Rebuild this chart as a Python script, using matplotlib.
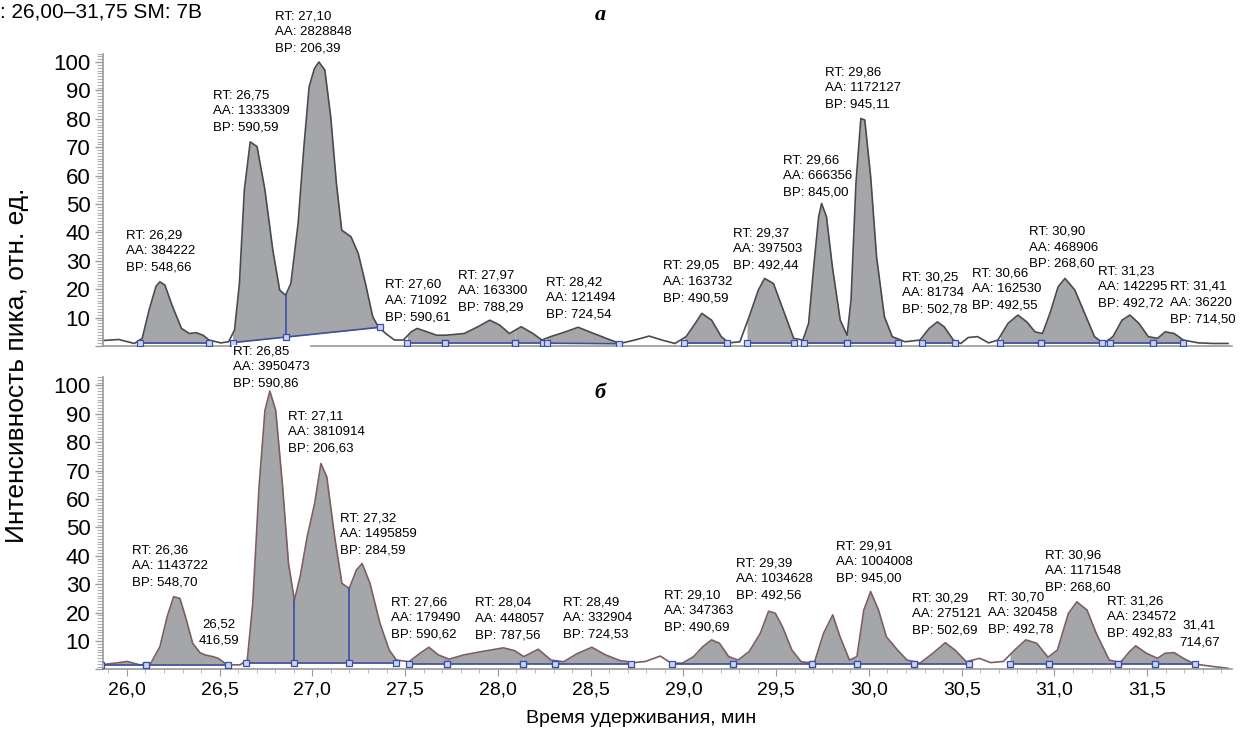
import numpy as np
import matplotlib
matplotlib.use('Agg')
import matplotlib.pyplot as plt
from matplotlib.ticker import MultipleLocator, FixedLocator, FuncFormatter

plt.rcParams['font.family'] = ['Liberation Sans', 'DejaVu Sans']

# chromatogram a: retention time (min) / relative intensity (%)
TIME_A = [25.99, 26.08, 26.16, 26.20, 26.235, 26.27, 26.29, 26.315, 26.355, 26.40,
          26.44, 26.475, 26.51, 26.54, 26.60, 26.64, 26.67, 26.695, 26.72, 26.75,
          26.785, 26.825, 26.865, 26.90, 26.93, 26.957, 26.994, 27.022, 27.05, 27.077,
          27.10, 27.13, 27.16, 27.189, 27.216, 27.263, 27.30, 27.337, 27.374, 27.402,
          27.44, 27.485, 27.53, 27.57, 27.60, 27.65, 27.70, 27.745, 27.84, 27.91,
          27.97, 28.02, 28.07, 28.13, 28.19, 28.236, 28.28, 28.356, 28.42, 28.50,
          28.578, 28.634, 28.708, 28.782, 28.847, 28.913, 28.97, 29.017, 29.05, 29.10,
          29.149, 29.187, 29.244, 29.291, 29.338, 29.37, 29.415, 29.471, 29.518, 29.565,
          29.594, 29.62, 29.645, 29.66, 29.685, 29.715, 29.755, 29.79, 29.81, 29.835,
          29.86, 29.88, 29.91, 29.94, 29.98, 30.02, 30.085, 30.161, 30.208, 30.25,
          30.284, 30.331, 30.369, 30.407, 30.454, 30.511, 30.558, 30.61, 30.66, 30.705,
          30.747, 30.785, 30.823, 30.865, 30.90, 30.95, 31.0, 31.05, 31.097, 31.144,
          31.19, 31.23, 31.276, 31.324, 31.371, 31.41, 31.456, 31.503, 31.579, 31.655,
          31.73]
SIGNAL_A = [1.9, 2.3, 0.9, 2.7, 12.7, 21.0, 22.6, 21.5, 13.8, 6.2,
            4.4, 4.7, 3.8, 2.1, 1.1, 1.5, 5.6, 22.0, 54.9, 71.9,
            70.2, 54.9, 33.8, 19.7, 17.9, 22.0, 43.2, 69.0, 91.3, 97.7,
            100.0, 97.2, 80.7, 57.3, 40.8, 38.5, 32.6, 22.0, 10.3, 6.8,
            4.4, 2.1, 2.1, 5.0, 6.2, 5.0, 3.8, 3.8, 4.4, 6.8,
            9.1, 7.4, 4.4, 6.8, 4.4, 2.1, 3.3, 5.0, 6.6, 4.4,
            2.3, 0.9, 2.1, 3.5, 2.1, 0.9, 3.3, 8.0, 11.5, 9.1,
            3.3, 1.1, 1.5, 10.3, 19.7, 23.8, 22.0, 11.5, 2.7, 2.1,
            8.0, 27.9, 45.5, 50.2, 45.5, 27.9, 9.1, 3.8, 16.2, 57.3,
            80.1, 79.6, 59.6, 31.4, 10.3, 3.3, 1.5, 2.1, 6.2, 8.5,
            6.8, 2.1, 0.9, 3.0, 3.3, 1.1, 2.1, 8.0, 10.9, 8.5,
            5.0, 4.4, 11.5, 20.9, 23.8, 19.7, 11.5, 3.3, 0.9, 3.3,
            9.1, 10.9, 8.0, 3.3, 2.7, 5.0, 4.4, 2.1, 1.1, 0.9,
            0.9]

# chromatogram б
TIME_B = [25.985, 26.06, 26.124, 26.188, 26.244, 26.29, 26.327, 26.36, 26.392, 26.42,
          26.457, 26.494, 26.52, 26.56, 26.587, 26.633, 26.698, 26.735, 26.763, 26.795,
          26.825, 26.85, 26.88, 26.915, 26.945, 26.975, 27.004, 27.04, 27.078, 27.11,
          27.14, 27.18, 27.217, 27.254, 27.291, 27.32, 27.36, 27.411, 27.458, 27.495,
          27.559, 27.615, 27.66, 27.708, 27.763, 27.837, 27.93, 28.04, 28.097, 28.143,
          28.217, 28.282, 28.347, 28.411, 28.49, 28.56, 28.634, 28.708, 28.763, 28.838,
          28.894, 28.951, 29.008, 29.055, 29.10, 29.14, 29.187, 29.235, 29.291, 29.348,
          29.39, 29.424, 29.461, 29.509, 29.556, 29.622, 29.67, 29.717, 29.754, 29.802,
          29.84, 29.875, 29.91, 29.95, 29.99, 30.047, 30.095, 30.161, 30.227, 30.29,
          30.34, 30.397, 30.464, 30.52, 30.586, 30.643, 30.70, 30.756, 30.813, 30.861,
          30.917, 30.96, 31.012, 31.059, 31.125, 31.182, 31.229, 31.26, 31.314, 31.371,
          31.41, 31.456, 31.503, 31.56, 31.655, 31.73]
SIGNAL_B = [1.6, 2.2, 2.8, 1.6, 2.2, 8.0, 18.6, 25.6, 25.0, 18.6,
            9.2, 5.9, 5.1, 4.5, 3.9, 1.6, 1.6, 3.3, 23.3, 64.3,
            91.2, 98.0, 91.2, 64.3, 37.3, 24.4, 32.6, 46.7, 58.4, 72.5,
            67.8, 46.7, 30.3, 28.5, 35.0, 37.3, 30.3, 16.2, 6.8, 3.3,
            2.7, 5.7, 7.8, 5.1, 3.6, 5.1, 6.3, 7.6, 6.6, 4.5,
            7.1, 3.3, 2.7, 5.4, 7.8, 5.1, 3.1, 2.4, 2.8, 4.7,
            2.2, 2.2, 4.5, 8.0, 10.4, 9.2, 4.5, 3.3, 6.3, 12.7,
            20.5, 19.8, 15.0, 6.8, 2.7, 2.2, 12.7, 19.2, 11.5, 3.3,
            4.5, 20.9, 27.4, 20.9, 11.5, 6.8, 3.3, 2.2, 5.7, 9.4,
            6.8, 2.7, 3.9, 2.4, 2.8, 6.8, 10.4, 9.2, 4.3, 6.8,
            19.7, 23.8, 20.9, 12.7, 3.3, 2.4, 6.3, 8.3, 5.7, 3.9,
            5.7, 5.9, 3.9, 1.9, 1.0, 0.4]

# annotated peaks: RT (min), area, base peak m/z
RT_A = [26.29, 26.75, 27.10, 27.60, 27.97, 28.42, 29.05, 29.37, 29.66, 29.86,
        30.25, 30.66, 30.90, 31.23, 31.41]
AA_A = [384222, 1333309, 2828848, 71092, 163300, 121494, 163732, 397503, 666356, 1172127,
        81734, 162530, 468906, 142295, 36220]
BP_A = [548.66, 590.59, 206.39, 590.61, 788.29, 724.54, 490.59, 492.44, 845.00, 945.11,
        502.78, 492.55, 268.60, 492.72, 714.50]

RT_B = [26.36, 26.52, 26.85, 27.11, 27.32, 27.66, 28.04, 28.49, 29.10, 29.39,
        29.91, 30.29, 30.70, 30.96, 31.26, 31.41]
AA_B = [1143722, None, 3950473, 3810914, 1495859, 179490, 448057, 332904, 347363, 1034628,
        1004008, 275121, 320458, 1171548, 234572, None]
BP_B = [548.70, 416.59, 590.86, 206.63, 284.59, 590.62, 787.56, 724.53, 490.69, 492.56,
        945.00, 502.69, 492.78, 268.60, 492.83, 714.67]

# integration baselines (start, end, level at start, level at end) and split points
BASE_A = [(26.19, 26.54, 0.9, 0.9), (26.66, 27.41, 1.2, 6.6), (27.55, 27.74, 1.0, 1.0),
          (27.74, 28.10, 1.0, 1.0), (28.10, 28.24, 1.0, 1.0), (28.26, 28.63, 1.0, 0.8),
          (28.96, 29.18, 0.9, 0.9), (29.28, 29.52, 0.9, 0.9), (29.57, 29.79, 0.9, 0.9),
          (29.79, 30.05, 0.9, 0.9), (30.17, 30.34, 0.9, 0.9), (30.57, 30.78, 0.9, 0.9),
          (30.78, 31.09, 0.9, 0.9), (31.13, 31.35, 0.9, 0.9), (31.35, 31.50, 0.9, 0.9)]
DROPS_A = [26.93]

BASE_B = [(25.99, 26.22, 1.5, 1.5), (26.22, 26.635, 1.5, 1.5), (26.73, 27.49, 2.2, 2.2),
          (27.56, 27.75, 2.0, 2.0), (27.75, 28.14, 2.0, 2.0), (28.14, 28.30, 2.0, 2.0),
          (28.30, 28.69, 2.0, 2.0), (28.90, 29.21, 2.0, 2.0), (29.21, 29.61, 2.0, 2.0),
          (29.61, 29.84, 2.0, 2.0), (29.84, 30.13, 2.0, 2.0), (30.13, 30.41, 2.0, 2.0),
          (30.62, 30.82, 2.0, 2.0), (30.82, 31.17, 2.0, 2.0), (31.17, 31.36, 2.0, 2.0),
          (31.36, 31.56, 1.8, 1.8)]
DROPS_B = [26.975, 27.254]

# top-left corner of every peak label (time, intensity)
LABEL_POS_A = [(26.117, 41.2), (26.560, 90.5), (26.876, 118.3), (27.437, 23.6), (27.808, 27.1),
               (28.257, 24.6), (28.853, 30.3), (29.209, 41.9), (29.464, 67.6), (29.678, 98.6),
               (30.070, 26.4), (30.427, 27.8), (30.717, 42.3), (31.069, 28.5), (31.436, 22.9)]
LABEL_POS_B = [(26.148, 44.1), (26.489, 18.1), (26.662, 114.1), (26.942, 91.2), (27.207, 55.3),
               (27.467, 25.8), (27.895, 25.5), (28.343, 25.8), (28.858, 28.3), (29.225, 39.5),
               (29.734, 45.5), (30.121, 27.2), (30.508, 27.6), (30.799, 42.3), (31.115, 26.2),
               (31.481, 17.4)]

T_START, T_END = 26.00, 31.75
# printed time scale under the lower trace
SCALE_START, SCALE_END = 25.871, 31.957
SCALE_TICKS = [26.0, 26.5, 27.0, 27.5, 28.0, 28.5, 29.0, 29.5, 30.0, 30.5, 31.0, 31.5]

FILL = '#a4a6a9'
BLUE = '#3b4fa3'


def comma(value, digits):
    return f'{value:.{digits}f}'.replace('.', ',')


def peakLabel(rt, aa, bp):
    if aa is None:
        return f'{comma(rt, 2)}\n{comma(bp, 2)}'
    return f'RT: {comma(rt, 2)}\nAA: {aa}\nBP: {comma(bp, 2)}'


def drawPanel(ax, time, signal, baselines, drops, rts, aas, bps, labelPos, lineColor):
    time = np.array(time)
    signal = np.array(signal)

    # shade integrated areas above their baselines
    for t0, t1, b0, b1 in baselines:
        inside = (time > t0) & (time < t1)
        tt = np.concatenate([[t0], time[inside], [t1]])
        yy = np.interp(tt, time, signal)
        base = b0 + (b1 - b0) * (tt - t0) / (t1 - t0)
        ax.fill_between(tt, base, yy, where=yy >= base, color=FILL, lw=0, zorder=1)
        ax.plot([t0, t1], [b0, b1], color=BLUE, lw=1.2, zorder=3)
        ax.plot([t0, t1], [b0, b1], ls='none', marker='s', ms=4.5, mfc='#c9d5f2',
                mec=BLUE, mew=0.9, zorder=4)

    for t in drops:
        seg = [s for s in baselines if s[0] <= t <= s[1]][0]
        b = seg[2] + (seg[3] - seg[2]) * (t - seg[0]) / (seg[1] - seg[0])
        ax.plot([t, t], [b, np.interp(t, time, signal)], color=BLUE, lw=1.2, zorder=3)
        ax.plot([t], [b], ls='none', marker='s', ms=4.5, mfc='#c9d5f2', mec=BLUE,
                mew=0.9, zorder=4)

    ax.plot(time, signal, color=lineColor, lw=1.2, zorder=2)

    for rt, aa, bp, (lx, ly) in zip(rts, aas, bps, labelPos):
        align = 'center' if aa is None else 'left'
        ax.text(lx, ly, peakLabel(rt, aa, bp), ha='left', va='top', fontsize=9.5,
                linespacing=1.45, multialignment=align, zorder=5,
                bbox=dict(facecolor='white', edgecolor='none', pad=0.5))

    ax.set_xlim(T_START, T_END)
    ax.set_ylim(0, 103)
    ax.yaxis.set_major_locator(MultipleLocator(10))
    ax.yaxis.set_minor_locator(MultipleLocator(1))
    ax.yaxis.set_major_formatter(FuncFormatter(lambda v, p: '' if v == 0 else f'{v:.0f}'))
    ax.tick_params(axis='y', which='major', length=6, width=1, color='#9a9a9a',
                   labelsize=16, pad=3)
    ax.tick_params(axis='y', which='minor', length=4, width=0.8, color='#b0b0b0')
    ax.tick_params(axis='x', which='both', bottom=False, labelbottom=False)
    for side in ['top', 'right']:
        ax.spines[side].set_visible(False)
    for side in ['left', 'bottom']:
        ax.spines[side].set_color('#9a9a9a')
        ax.spines[side].set_linewidth(1.2)


def toScale(t):
    return SCALE_START + (np.asarray(t) - T_START) * (SCALE_END - SCALE_START) / (T_END - T_START)


def fromScale(s):
    return T_START + (np.asarray(s) - SCALE_START) * (T_END - T_START) / (SCALE_END - SCALE_START)


def main():
    fig = plt.figure(figsize=(12.42, 7.30), dpi=100)
    axA = fig.add_axes([0.0829, 0.526, 0.909, 0.4007])
    axB = fig.add_axes([0.0829, 0.083, 0.909, 0.4007])

    drawPanel(axA, TIME_A, SIGNAL_A, BASE_A, DROPS_A, RT_A, AA_A, BP_A, LABEL_POS_A, '#4a4a4a')
    drawPanel(axB, TIME_B, SIGNAL_B, BASE_B, DROPS_B, RT_B, AA_B, BP_B, LABEL_POS_B, '#7b5f61')

    scale = axB.secondary_xaxis('bottom', functions=(toScale, fromScale))
    scale.xaxis.set_major_locator(FixedLocator(SCALE_TICKS))
    scale.xaxis.set_minor_locator(FixedLocator(np.arange(25.9, 31.95, 0.1)))
    scale.xaxis.set_major_formatter(FuncFormatter(lambda v, p: comma(v, 1)))
    scale.tick_params(which='major', length=5, color='#9a9a9a', labelsize=14, pad=4)
    scale.tick_params(which='minor', length=3, color='#b0b0b0')
    scale.spines['bottom'].set_visible(False)

    fig.text(0.163, 0.984, ': 26,00\u201331,75 SM: 7B', ha='right', va='center', fontsize=15)
    fig.text(0.0137, 0.5, 'Интенсивность пика, отн. ед.', rotation=90, ha='center',
             va='center', fontsize=19)
    fig.text(0.516, 0.0164, 'Время удерживания, мин', ha='center', va='center', fontsize=14)
    fig.text(0.483, 0.979, 'a', ha='center', va='center', fontsize=16,
             family=['Liberation Serif', 'DejaVu Serif'], weight='bold', style='italic')
    fig.text(0.483, 0.4616, 'б', ha='center', va='center', fontsize=16,
             family=['Liberation Serif', 'DejaVu Serif'], weight='bold', style='italic')

    fig.savefig('out.png', dpi=100)


if __name__ == '__main__':
    main()
